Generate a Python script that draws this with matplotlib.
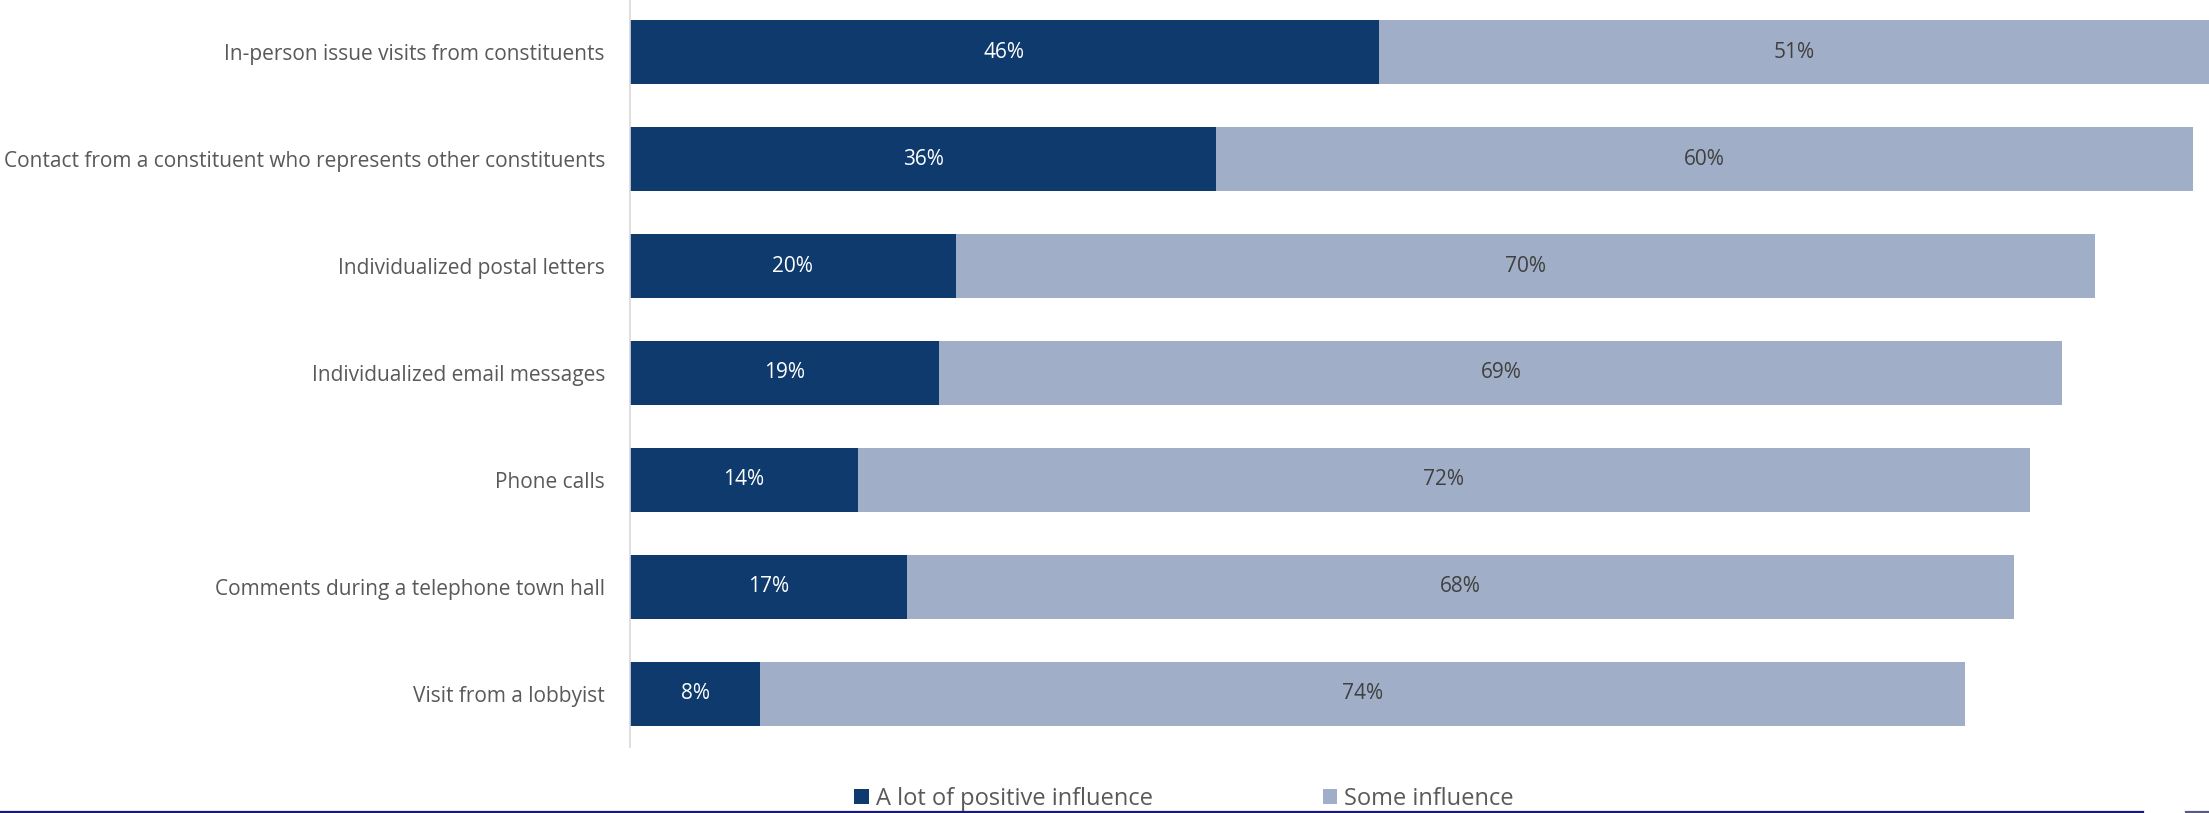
import matplotlib
matplotlib.use("Agg")
import matplotlib.pyplot as plt
from matplotlib.lines import Line2D
import numpy as np

categories = [
    "In-person issue visits from constituents",
    "Contact from a constituent who represents other constituents",
    "Individualized postal letters",
    "Individualized email messages",
    "Phone calls",
    "Comments during a telephone town hall",
    "Visit from a lobbyist",
]
a_lot = [46, 36, 20, 19, 14, 17, 8]
some = [51, 60, 70, 69, 72, 68, 74]
series_names = ["A lot of positive influence", "Some influence"]

DARK = "#0f3a6e"
LIGHT = "#a0afc7"
GREY = "#595959"

plt.rcParams["font.family"] = ["Open Sans", "DejaVu Sans"]

W, H = 2209, 813
fig = plt.figure(figsize=(W / 100, H / 100), dpi=100)
fig.patch.set_facecolor("white")

# axes: left at x=630px, spans to right edge; top just above image, bottom at y=747px
ax = fig.add_axes([630 / W, 1 - 747 / H, 1 - 630 / W, 748 / H])

y = np.arange(len(categories))
b1 = ax.barh(y, a_lot, height=0.6, color=DARK, linewidth=0, label=series_names[0])
b2 = ax.barh(y, some, left=a_lot, height=0.6, color=LIGHT, linewidth=0, label=series_names[1])

for i in range(len(categories)):
    ax.text(a_lot[i] / 2, y[i], f"{a_lot[i]}%", ha="center", va="center",
            fontsize=15, color="white")
    ax.text(a_lot[i] + some[i] / 2, y[i], f"{some[i]}%", ha="center", va="center",
            fontsize=15, color="#404040")

ax.set_xlim(0, 97)
ax.set_ylim(len(categories) - 0.5, -0.5)
ax.set_yticks(y)
ax.set_yticklabels(categories, fontsize=15, color=GREY)
ax.tick_params(axis="y", length=0, pad=18)
ax.set_xticks([])
for side in ["top", "right", "bottom"]:
    ax.spines[side].set_visible(False)
ax.spines["left"].set_color("#d9d9d9")
ax.spines["left"].set_linewidth(1.2)

leg = fig.legend(handles=[b1, b2], labels=series_names, loc="center",
                 bbox_to_anchor=(1184 / W, 1 - 799 / H), ncol=2, frameon=False,
                 fontsize=17, handlelength=0.6, handleheight=0.6,
                 handletextpad=0.3, columnspacing=7.2, borderpad=0)
for t in leg.get_texts():
    t.set_color(GREY)

# slide footer rule
fig.add_artist(Line2D([0, 2143 / W], [1 - 811.5 / H] * 2, color="#1a1a6e", lw=1.6))
fig.add_artist(Line2D([2186 / W, 2208 / W], [1 - 811.5 / H] * 2, color="#5a5a80", lw=1.6))

fig.savefig("out.png", dpi=100, facecolor="white")
